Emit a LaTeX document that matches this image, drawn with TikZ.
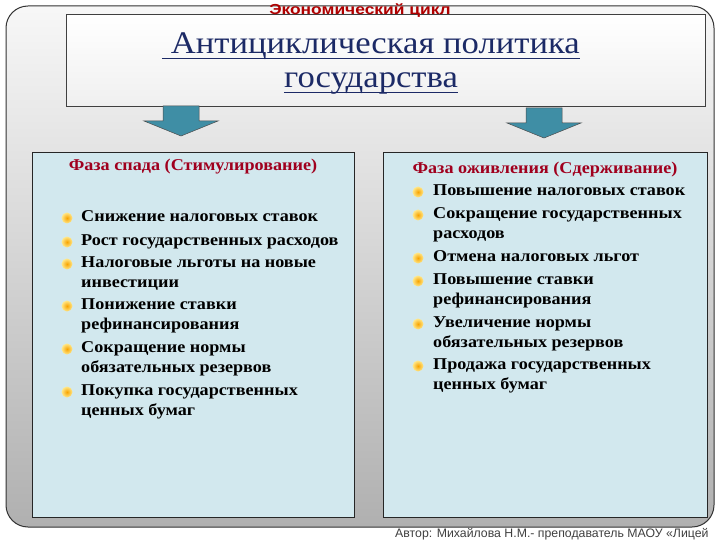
\documentclass[tikz,border=0pt]{standalone}
\usepackage{fontspec}
\setmainfont{Liberation Serif}[FakeStretch=1.1]
\newfontfamily\arialfont{Liberation Sans}
\newfontfamily\cyclefont{Liberation Sans}[FakeStretch=1.2]
\usetikzlibrary{positioning}
\definecolor{panelblue}{HTML}{D2E8EE}
\definecolor{arrowteal}{HTML}{3F8EA5}
\definecolor{headred}{HTML}{A0001E}
\definecolor{cyclered}{HTML}{B00000}
\definecolor{titleblue}{HTML}{1C2A66}
\definecolor{bulletorange}{HTML}{F8A400}
\newcommand\blockdown[2]{\draw[blockarrow] (#1-18,#2) -- ++(36,0) -- ++(0,15)
  -- ++(19,0) -- (#1,#2+30) -- (#1-37,#2+15) -- ++(19,0) -- cycle;}
\begin{document}
\begin{tikzpicture}[x=1pt, y=-1pt,
    panel/.style={draw=black!85, line width=0.9pt, fill=panelblue,
      minimum height=365pt, anchor=north west, inner sep=0pt},
    titleline/.style={text=titleblue, font=\fontsize{31.5}{35}\selectfont,
      anchor=base, inner sep=0pt},
    heading/.style={text=headred, font=\bfseries\fontsize{16.5}{19}\selectfont},
    item/.style={anchor=north west, inner sep=0pt, align=left,
      font=\bfseries\fontsize{16.5}{20}\selectfont},
    dot/.style={circle, inner sep=0pt, minimum size=11pt,
      inner color=bulletorange, outer color=yellow!60!orange!45},
    blockarrow/.style={fill=arrowteal, draw=black!70, line width=0.5pt}]
  \useasboundingbox (0,0) rectangle (720,540);
  \fill[white] (0,0) rectangle (720,540);
  % frame
  \draw[black!80, line width=1pt, rounded corners=22pt, top color=gray!6,
    bottom color=gray!62] (6,6) rectangle (714,527);
  % title
  \node[draw=black!75, line width=1.2pt, top color=white, bottom color=gray!12,
    minimum width=639pt, minimum height=92pt, anchor=north west,
    inner sep=0pt] (title) at (66,14) {};
  \node[titleline] (t1) at (371,54) {\ Антициклическая политика};
  \node[titleline] (t2) at (371,88) {государства};
  \foreach \t in {t1,t2}
    \draw[titleblue, line width=1.6pt] ([yshift=-4.5pt]\t.base west)
      -- ([yshift=-4.5pt]\t.base east);
  \node[text=cyclered, font=\cyclefont\bfseries\fontsize{14.5}{16}\selectfont]
    (cycle) at (360,11) {Экономический цикл};
  \blockdown{181}{106}
  \blockdown{544}{108}
  % panels
  \node[panel, minimum width=322pt] (left) at (32,152) {};
  \node[panel, minimum width=324pt] (right) at (383,152) {};
  \node[heading] (lhead) at (193,167) {Фаза спада (Стимулирование)};
  \node[heading] (rhead) at (545,170) {Фаза оживления (Сдерживание)};
  \foreach \i/\y/\txt in {1/210/Снижение налоговых ставок,
      2/234/Рост государственных расходов,
      3/256/{Налоговые льготы на новые\\инвестиции},
      4/298/{Понижение ставки\\рефинансирования},
      5/341/{Сокращение нормы\\обязательных резервов},
      6/384/{Покупка государственных\\ценных бумаг}}{
    \node[item] (l\i) at (81,\y) {\txt};
    \node[dot] (ldot\i) at (67,\y+8) {};
  }
  \foreach \i/\y/\txt in {1/184/Повышение налоговых ставок,
      2/207/{Сокращение государственных\\расходов},
      3/250/Отмена налоговых льгот,
      4/273/{Повышение ставки\\рефинансирования},
      5/316/{Увеличение нормы\\обязательных резервов},
      6/358/{Продажа государственных\\ценных бумаг}}{
    \node[item] (r\i) at (433,\y) {\txt};
    \node[dot] (rdot\i) at (418,\y+8) {};
  }
  \node[text=black!75, font=\arialfont\fontsize{12.3}{14}\selectfont,
    anchor=base west, inner sep=0pt] (author) at (395,537.5)
    {Автор: Михайлова Н.М.- преподаватель МАОУ «Лицей};
\end{tikzpicture}
\end{document}
